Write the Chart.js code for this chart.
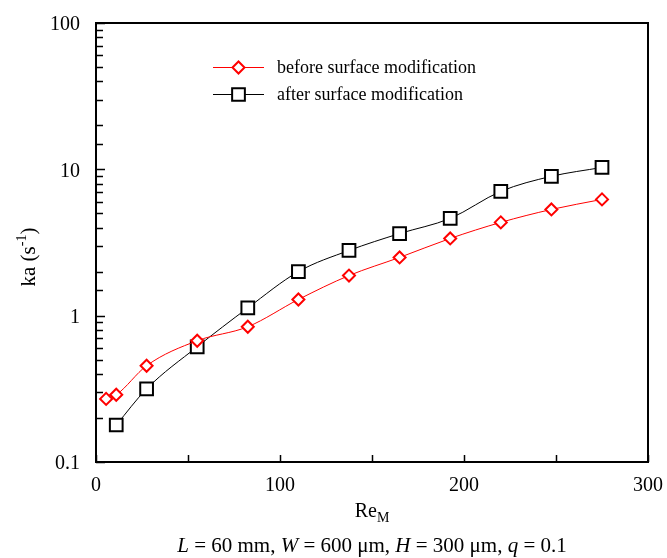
<!DOCTYPE html>
<html>
<head>
<meta charset="utf-8">
<script src="https://cdn.jsdelivr.net/npm/chart.js@4"></script>
<style>
  html, body { margin: 0; padding: 0; background: #fff; }
  #wrap { width: 667px; height: 558px; }
</style>
</head>
<body>
<div id="wrap"><canvas id="chart" width="667" height="558"></canvas></div>
<script>
// Re_M values and ka values
const reBefore = [5.5, 11, 27.5, 55, 82.5, 110, 137.5, 165, 192.5, 220, 247.5, 275];
const kaBefore = [0.27, 0.288, 0.455, 0.674, 0.84, 1.29, 1.88, 2.5, 3.37, 4.34, 5.32, 6.23];
const reAfter = [11, 27.5, 55, 82.5, 110, 137.5, 165, 192.5, 220, 247.5, 275];
const kaAfter = [0.179, 0.316, 0.613, 1.13, 2.0, 2.79, 3.64, 4.62, 7.07, 8.96, 10.3];
const xTickLabels = [0, 100, 200, 300];
const yTickLabels = [0.1, 1, 10, 100];
const seriesNames = ['before surface modification', 'after surface modification'];

const serif = '"Liberation Serif", "DejaVu Serif", serif';

function toPoints(xs, ys) {
  return xs.map(function (x, i) { return { x: x, y: ys[i] }; });
}

function isDecade(v) {
  const l = Math.log10(v);
  return Math.abs(l - Math.round(l)) < 1e-6;
}

const framePlugin = {
  id: 'frame',
  afterDraw: function (chart) {
    const ctx = chart.ctx;
    const a = chart.chartArea;
    const xs = chart.scales.x;
    const ys = chart.scales.y;
    ctx.save();
    ctx.strokeStyle = '#000';
    ctx.lineWidth = 1.5;
    // inward ticks
    ctx.beginPath();
    ys.ticks.forEach(function (t) {
      const py = Math.round(ys.getPixelForValue(t.value)) + 0.5;
      const len = isDecade(t.value) ? 9 : 7;
      ctx.moveTo(a.left, py);
      ctx.lineTo(a.left + len, py);
    });
    xs.ticks.forEach(function (t) {
      const px = Math.round(xs.getPixelForValue(t.value)) + 0.5;
      ctx.moveTo(px, a.bottom);
      ctx.lineTo(px, a.bottom - 7);
    });
    ctx.stroke();
    // frame
    ctx.lineWidth = 2;
    ctx.strokeRect(a.left, a.top, a.right - a.left, a.bottom - a.top);

    // legend
    const ds = chart.data.datasets;
    const rows = [67, 94];
    ctx.textBaseline = 'middle';
    ctx.textAlign = 'left';
    ds.forEach(function (d, i) {
      const y = rows[i];
      ctx.strokeStyle = d.borderColor;
      ctx.lineWidth = 1;
      ctx.beginPath();
      ctx.moveTo(213, y + 0.5);
      ctx.lineTo(264, y + 0.5);
      ctx.stroke();
      ctx.lineWidth = 2;
      ctx.fillStyle = '#fff';
      Chart.helpers.drawPoint(ctx, {
        pointStyle: d.pointStyle,
        radius: d.pointRadius,
        rotation: 0,
        borderWidth: 2
      }, 238.5, y + 0.5);
      ctx.fillStyle = '#000';
      ctx.font = '18px ' + serif;
      ctx.fillText(d.label, 277, y + 1);
    });

    // x title: Re with subscript M
    ctx.fillStyle = '#000';
    ctx.font = '20px ' + serif;
    const reW = ctx.measureText('Re').width;
    ctx.font = '14px ' + serif;
    const mW = ctx.measureText('M').width;
    const cx = (a.left + a.right) / 2;
    let sx = cx - (reW + mW) / 2;
    ctx.font = '20px ' + serif;
    ctx.fillText('Re', sx, 512);
    ctx.font = '14px ' + serif;
    ctx.fillText('M', sx + reW, 518);

    // caption with italic symbols
    const parts = [
      ['L', true], [' = 60 mm, ', false], ['W', true], [' = 600 \u03bcm, ', false],
      ['H', true], [' = 300 \u03bcm, ', false], ['q', true], [' = 0.1', false]
    ];
    let total = 0;
    parts.forEach(function (p) {
      ctx.font = (p[1] ? 'italic ' : '') + '21px ' + serif;
      total += ctx.measureText(p[0]).width;
    });
    sx = cx - total / 2;
    parts.forEach(function (p) {
      ctx.font = (p[1] ? 'italic ' : '') + '21px ' + serif;
      ctx.fillText(p[0], sx, 546);
      sx += ctx.measureText(p[0]).width;
    });

    // y title rotated: ka (s^-1)
    ctx.save();
    ctx.translate(29, 257);
    ctx.rotate(-Math.PI / 2);
    ctx.font = '21px ' + serif;
    const w1 = ctx.measureText('ka (s').width;
    ctx.font = '14px ' + serif;
    const w2 = ctx.measureText('-1').width;
    ctx.font = '21px ' + serif;
    const w3 = ctx.measureText(')').width;
    const tx = -(w1 + w2 + w3) / 2;
    ctx.fillText('ka (s', tx, 0);
    ctx.font = '14px ' + serif;
    ctx.fillText('-1', tx + w1, -7);
    ctx.font = '21px ' + serif;
    ctx.fillText(')', tx + w1 + w2, 0);
    ctx.restore();

    ctx.restore();
  }
};

new Chart(document.getElementById('chart'), {
  type: 'line',
  data: {
    datasets: [{
      label: seriesNames[0],
      data: toPoints(reBefore, kaBefore),
      borderColor: '#ff0000',
      borderWidth: 1,
      backgroundColor: '#fff',
      pointStyle: 'rectRot',
      pointRadius: 6,
      pointBorderWidth: 2,
      pointBackgroundColor: '#fff',
      pointBorderColor: '#ff0000',
      cubicInterpolationMode: 'monotone'
    }, {
      label: seriesNames[1],
      data: toPoints(reAfter, kaAfter),
      borderColor: '#000000',
      borderWidth: 1,
      backgroundColor: '#fff',
      pointStyle: 'rect',
      pointRadius: 9,
      pointBorderWidth: 2,
      pointBackgroundColor: '#fff',
      pointBorderColor: '#000000',
      cubicInterpolationMode: 'monotone'
    }]
  },
  options: {
    responsive: false,
    devicePixelRatio: 1,
    animation: false,
    clip: false,
    layout: { padding: { top: 23, right: 19, left: 0, bottom: 0 } },
    plugins: {
      legend: { display: false },
      tooltip: { enabled: false }
    },
    scales: {
      x: {
        type: 'linear',
        min: 0,
        max: 300,
        grid: { display: false, drawTicks: false },
        border: { display: false },
        ticks: {
          stepSize: 50,
          autoSkip: false,
          maxRotation: 0,
          padding: 12,
          color: '#000',
          font: { family: serif, size: 20 },
          callback: function (v) { return xTickLabels.includes(v) ? String(v) : ''; }
        },
        afterFit: function (s) {
          s.height = 96;
          s.paddingLeft = 0;
          s.paddingRight = 0;
        }
      },
      y: {
        type: 'logarithmic',
        min: 0.1,
        max: 100,
        grid: { display: false, drawTicks: false },
        border: { display: false },
        ticks: {
          autoSkip: false,
          padding: 16,
          labelOffset: 2,
          color: '#000',
          font: { family: serif, size: 20 },
          callback: function (v) {
            if (!isDecade(v)) return '';
            const hit = yTickLabels.find(function (t) { return Math.abs(t - v) / t < 1e-6; });
            return hit === undefined ? '' : String(hit);
          }
        },
        afterFit: function (s) {
          s.width = 96;
          s.paddingTop = 0;
          s.paddingBottom = 0;
        }
      }
    }
  },
  plugins: [framePlugin]
});
</script>
</body>
</html>
